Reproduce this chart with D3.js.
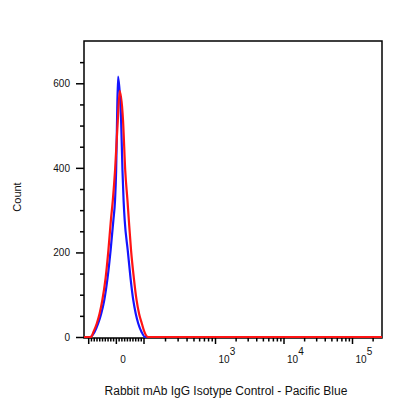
<!DOCTYPE html>
<html>
<head>
<meta charset="utf-8">
<script src="https://cdn.jsdelivr.net/npm/d3@7"></script>
<style>
  body { margin: 0; background: #fff; }
  svg { font-family: "Liberation Sans", Arial, sans-serif; }
</style>
</head>
<body>
<div id="chart"></div>
<script>
// Histogram overlay - isotype control, Pacific Blue channel

// Data (channel value, count)
let blueX = [-94, -77, -64, -53, -42, -30, -19, -9, -3, 1, 4, 8, 19, 24, 28, 32, 43, 53, 63, 72, 81, 93, 105]
let blueCount = [0, 12, 32, 55, 87, 140, 205, 276, 323, 393, 500, 616, 512, 393, 323, 276, 205, 140, 87, 55, 32, 12, 0]
let redX = [-90, -81, -69, -59, -49, -37, -27, -18, -11, -3, 6, 14, 26, 34, 42, 47, 55, 65, 75, 84, 94, 103, 115]
let redCount = [0, 12, 32, 55, 87, 140, 205, 276, 323, 393, 500, 582, 512, 393, 323, 276, 205, 140, 87, 55, 32, 12, 0]

// Axis ticks
let yMajorTicks = [0, 200, 400, 600]
let yMinorTicks = [50, 100, 150, 250, 300, 350, 450, 500, 550, 650]
let xMajorTicks = [-100, 0, 100, 1e3, 1e4, 1e5]
let xMinorTicks = [-90, -80, -70, -60, -50, -40, -30, -20, -10, 10, 20, 30, 40, 50, 60, 70, 80, 90,
                   200, 300, 400, 500, 600, 700, 800, 900,
                   2e3, 3e3, 4e3, 5e3, 6e3, 7e3, 8e3, 9e3,
                   2e4, 3e4, 4e4, 5e4, 6e4, 7e4, 8e4, 9e4, 2e5]
let xLabelValues = [0, 1e3, 1e4, 1e5]
let xLabelExps = ["", "3", "4", "5"]

let xMin = -115, xMax = 274000

// Sizes
let width = 416, height = 416
let mLeft = 84, mRight = 382, mTop = 41, mBottom = 338

let svg = d3.select("#chart").append("svg")
    .attr("width", width)
    .attr("height", height)

// Biexponential-like x scale: linear around zero, log above 100
let xLin = d3.scaleLinear().domain([-100, 100]).range([88.2, 143.5])
let xLog = d3.scaleLog().domain([100, 1e3, 1e5]).range([143.5, 215, 352])
let x = function (v) { return v <= 100 ? xLin(v) : xLog(v) }
x.copy = function () { return x }
x.range = function () { return [mLeft, mRight] }

let y = d3.scaleLinear().domain([0, 700]).range([337, mTop])

// Frame
svg.append("rect")
    .attr("x", mLeft)
    .attr("y", mTop)
    .attr("width", mRight - mLeft)
    .attr("height", mBottom - mTop)
    .attr("fill", "none")
    .attr("stroke", "#000")
    .attr("stroke-width", 1.5)

// Curves
let line = d3.line()
    .x(function (d) { return x(d[0]) })
    .y(function (d) { return y(d[1]) })
    .curve(d3.curveMonotoneX)

let series = [
  { xs: blueX, counts: blueCount, color: "#1414ff" },
  { xs: redX, counts: redCount, color: "#ff1414" }
]

series.forEach(function (s) {
  let pts = [[xMin, 0]].concat(s.xs.map(function (v, i) { return [v, s.counts[i]] }), [[xMax, 0]])
  svg.append("path")
      .datum(pts)
      .attr("fill", "none")
      .attr("stroke", s.color)
      .attr("stroke-width", 2.2)
      .attr("stroke-linejoin", "round")
      .attr("d", line)
})

// Y axis
let yMinor = svg.append("g")
    .attr("transform", "translate(" + mLeft + ",0)")
    .call(d3.axisLeft(y).tickValues(yMinorTicks).tickSize(4).tickFormat(""))
let yMajor = svg.append("g")
    .attr("transform", "translate(" + mLeft + ",0)")
    .call(d3.axisLeft(y).tickValues(yMajorTicks).tickSize(8).tickPadding(6))
    .attr("font-size", "10px")
    .attr("font-family", null)

// X axis
let xMinorG = svg.append("g")
    .attr("transform", "translate(0," + mBottom + ")")
    .call(d3.axisBottom(x).tickValues(xMinorTicks).tickSize(3.5).tickFormat(""))
let xMajorG = svg.append("g")
    .attr("transform", "translate(0," + mBottom + ")")
    .call(d3.axisBottom(x).tickValues(xMajorTicks).tickSize(6).tickFormat(""))

let xLabels = svg.append("g")
    .attr("font-size", "10px")
    .attr("fill", "#111")
    .selectAll("text")
    .data(xLabelValues)
    .enter().append("text")
    .attr("x", function (d) { return x(d) + 3.5 })
    .attr("y", 362.5)

xLabels.each(function (d, i) {
  let t = d3.select(this)
  if (xLabelExps[i] === "") {
    t.attr("x", x(d) + 4.5).text("0")
  } else {
    t.append("tspan").text("10")
    t.append("tspan").attr("dy", -7.5).text(xLabelExps[i])
  }
})

;[yMinor, yMajor, xMinorG, xMajorG].forEach(function (g) {
  g.select(".domain").remove()
  g.selectAll(".tick line").attr("stroke-width", 1.5)
  g.selectAll(".tick text").attr("fill", "#111")
})

// Titles
svg.append("text")
    .attr("transform", "translate(21,197) rotate(-90)")
    .attr("text-anchor", "middle")
    .attr("font-size", "11px")
    .attr("fill", "#111")
    .text("Count")

svg.append("text")
    .attr("x", 226)
    .attr("y", 395)
    .attr("text-anchor", "middle")
    .attr("font-size", "12px")
    .attr("fill", "#111")
    .text("Rabbit mAb IgG Isotype Control - Pacific Blue")
</script>
</body>
</html>
